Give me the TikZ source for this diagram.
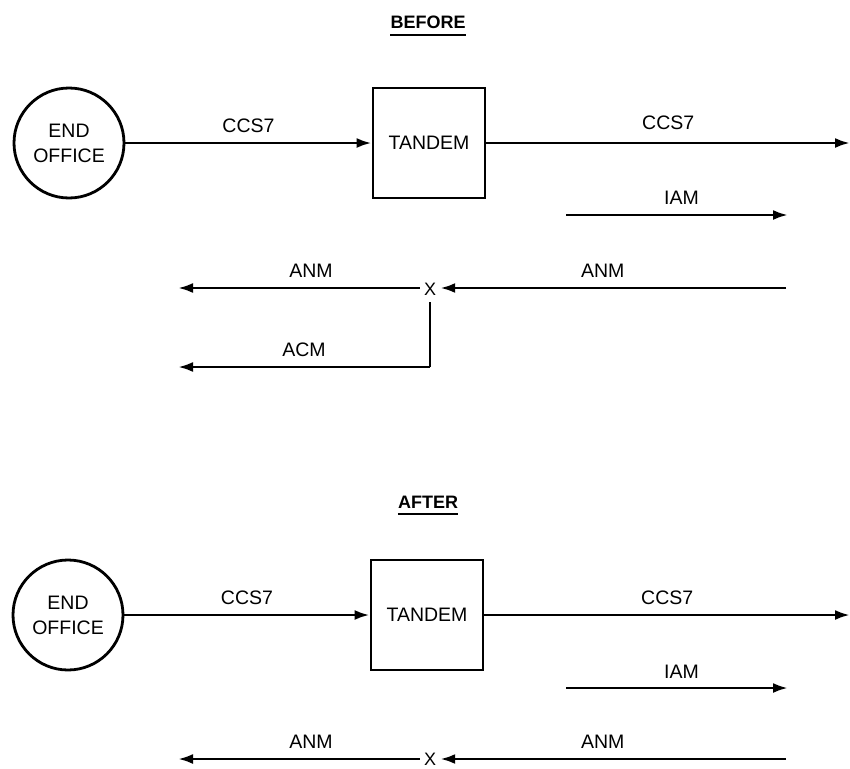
\documentclass[tikz,border=0pt]{standalone}
\usepackage{fontspec}
\setmainfont{Liberation Sans}
\usetikzlibrary{arrows.meta}
\begin{document}
\begin{tikzpicture}[x=1pt,y=-1pt,
  lbl/.style={font=\fontsize{19.5}{22}\selectfont, inner sep=0pt},
  title/.style={font=\fontsize{18}{20}\selectfont\bfseries, inner sep=0pt},
  conn/.style={line width=2.8pt, -{Latex[length=15pt,width=10pt]}},
  plain/.style={line width=2.8pt},
  office/.style={circle, draw, line width=2.8pt, minimum size=110pt, inner sep=0pt, align=center, font=\fontsize{19.5}{25}\selectfont},
  tbox/.style={rectangle, draw, line width=2.8pt, minimum width=112pt, minimum height=110pt, inner sep=0pt, font=\fontsize{19.5}{22}\selectfont},
  xmark/.style={font=\fontsize{18}{20}\selectfont, inner sep=0pt, minimum width=20pt, text depth=0pt}]
\useasboundingbox (0,0) rectangle (850,768);

% ---------- BEFORE ----------
\node[title] (t1) at (428,22) {BEFORE};
\draw[line width=2pt] ([yshift=-6pt]t1.south west) -- ([yshift=-6pt]t1.south east);
\node[office] (eo1) at (69,143) {END\\OFFICE};
\node[tbox] (td1) at (429,143) {TANDEM};
\coordinate (r1) at (850,143);
\draw[conn] (eo1) -- (td1) node[lbl, midway, above=9pt] {CCS7};
\draw[conn] (td1) -- (r1) node[lbl, pos=0.5, above=12pt] {CCS7};

\coordinate (iam1s) at (566,215);
\coordinate (iam1e) at (788,215);
\draw[conn] (iam1s) -- (iam1e) node[lbl, pos=0.52, above=9pt] {IAM};

\node[xmark] (x1) at (430,289) {X};
\coordinate (anm1r) at (786,288);
\coordinate (anm1l) at (178,288);
\draw[conn] (anm1r) -- (x1.east |- anm1r) node[lbl, pos=0.53, above=9pt] {ANM};
\draw[conn] (x1.west |- anm1l) -- (anm1l) node[lbl, pos=0.45, above=9pt] {ANM};
\coordinate (acm1c) at (430,367);
\coordinate (acm1l) at (178,367);
\draw[plain] ([yshift=-7pt]x1.south) -- (acm1c);
\draw[conn] (acm1c) -- (acm1l) node[lbl, pos=0.5, above=9pt] {ACM};

% ---------- AFTER ----------
\node[title] (t2) at (428,502) {AFTER};
\draw[line width=2pt] ([yshift=-6pt]t2.south west) -- ([yshift=-6pt]t2.south east);
\node[office] (eo2) at (68,615) {END\\OFFICE};
\node[tbox] (td2) at (427,615) {TANDEM};
\coordinate (r2) at (850,615);
\draw[conn] (eo2) -- (td2) node[lbl, midway, above=9pt] {CCS7};
\draw[conn] (td2) -- (r2) node[lbl, pos=0.5, above=9pt] {CCS7};

\coordinate (iam2s) at (566,688);
\coordinate (iam2e) at (788,688);
\draw[conn] (iam2s) -- (iam2e) node[lbl, pos=0.52, above=8pt] {IAM};

\node[xmark] (x2) at (430,759) {X};
\coordinate (anm2r) at (786,759);
\coordinate (anm2l) at (178,759);
\draw[conn] (anm2r) -- (x2.east |- anm2r) node[lbl, pos=0.53, above=9pt] {ANM};
\draw[conn] (x2.west |- anm2l) -- (anm2l) node[lbl, pos=0.45, above=9pt] {ANM};
\end{tikzpicture}
\end{document}
